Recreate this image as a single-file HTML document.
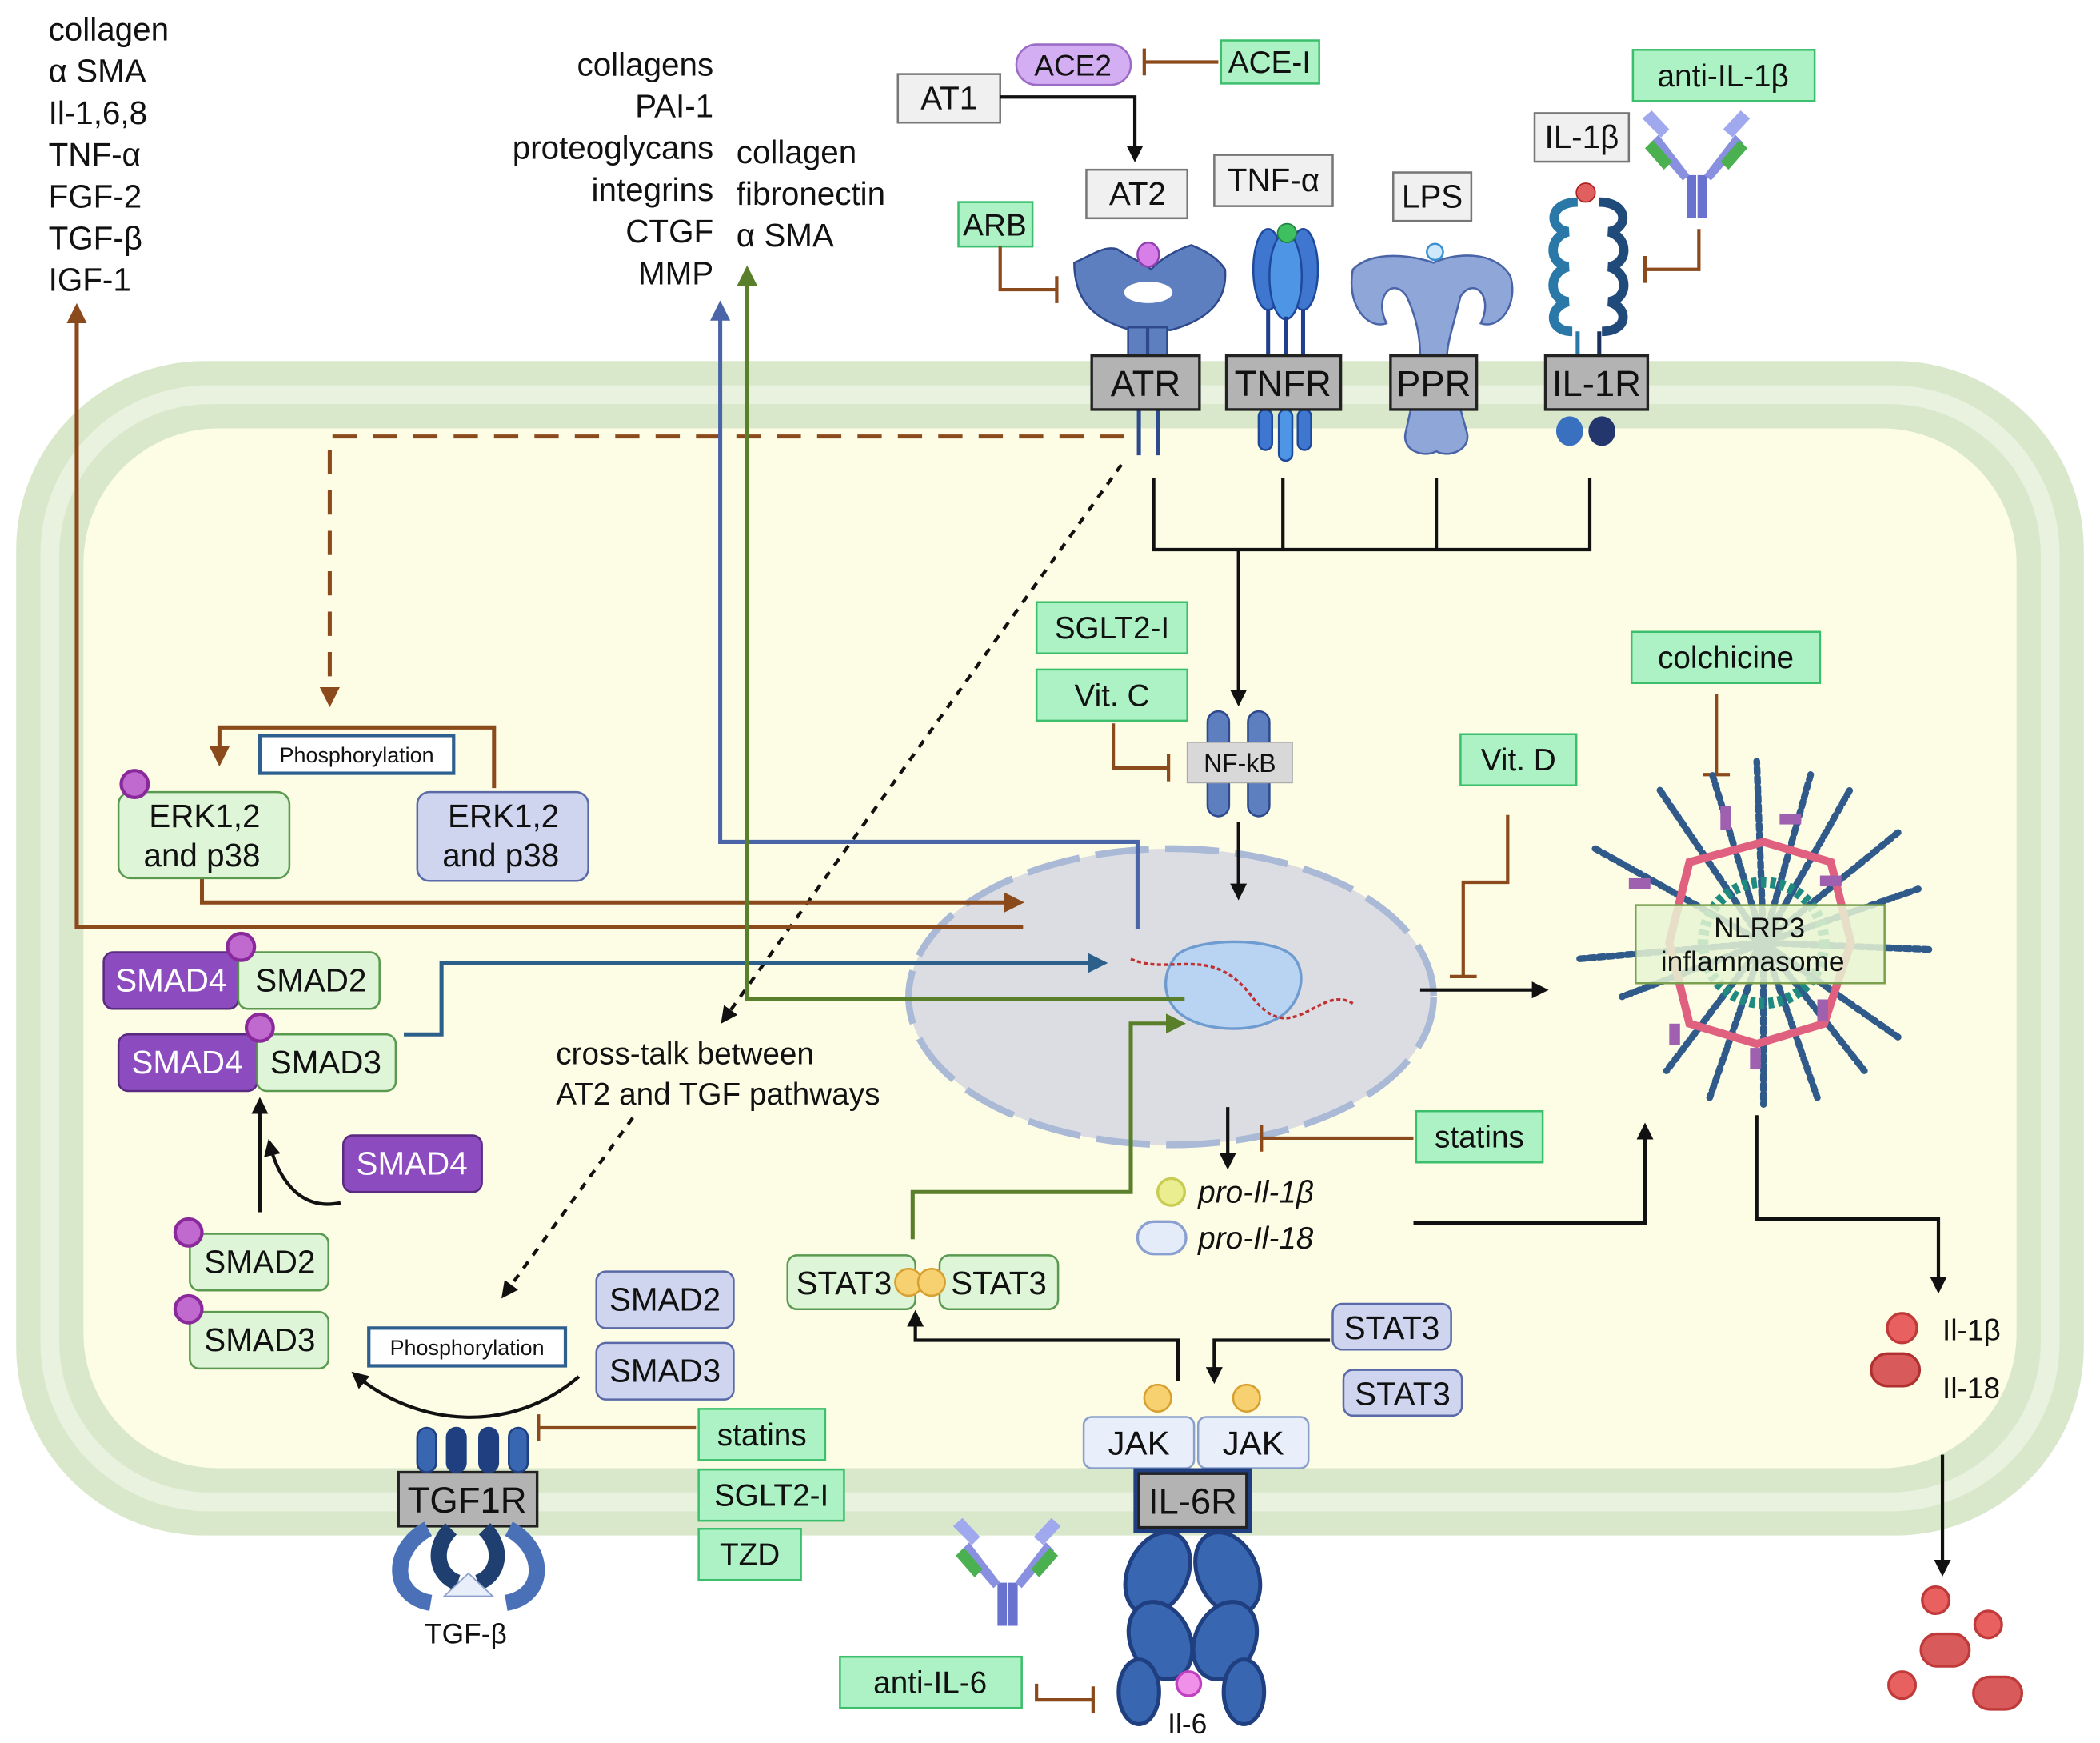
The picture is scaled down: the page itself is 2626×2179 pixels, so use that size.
<!DOCTYPE html>
<html><head><meta charset="utf-8"><style>
html,body{margin:0;padding:0;background:#fff}
svg{display:block}
text{font-family:"Liberation Sans",sans-serif;fill:#111}
</style></head><body>
<svg width="2626" height="2179" viewBox="0 0 1560 1294" preserveAspectRatio="none" xmlns="http://www.w3.org/2000/svg">
<defs>
<marker id="ab" viewBox="0 0 10 10" refX="8" refY="5" markerWidth="5" markerHeight="5" orient="auto"><path d="M0,0L10,5L0,10z" fill="#111"/></marker>
<marker id="abr" viewBox="0 0 10 10" refX="8" refY="5" markerWidth="5" markerHeight="5" orient="auto"><path d="M0,0L10,5L0,10z" fill="#8b4a1c"/></marker>
<marker id="abl" viewBox="0 0 10 10" refX="8" refY="5" markerWidth="5" markerHeight="5" orient="auto"><path d="M0,0L10,5L0,10z" fill="#4a64a8"/></marker>
<marker id="abd" viewBox="0 0 10 10" refX="8" refY="5" markerWidth="5" markerHeight="5" orient="auto"><path d="M0,0L10,5L0,10z" fill="#2c5f8a"/></marker>
<marker id="abg" viewBox="0 0 10 10" refX="8" refY="5" markerWidth="5" markerHeight="5" orient="auto"><path d="M0,0L10,5L0,10z" fill="#5a7f2a"/></marker>
</defs>

<!-- cell -->
<rect x="12" y="268" width="1536" height="872" rx="140" fill="#d9e8cb"/>
<rect x="30" y="286" width="1500" height="836" rx="125" fill="#e9f1df"/>
<rect x="44" y="300" width="1472" height="808" rx="112" fill="#d9e8cb"/>
<rect x="62" y="318" width="1436" height="772" rx="100" fill="#fdfde6"/>

<!-- nucleus -->
<ellipse cx="870" cy="740" rx="195" ry="110" fill="#dcdde3" stroke="#a9b9d6" stroke-width="5" stroke-dasharray="40,12"/>
<path d="M872,712C880,696 950,694 962,712C972,725 965,750 945,758C925,768 885,765 872,748C862,735 866,720 872,712Z" fill="#b8d4f2" stroke="#6e9bd0" stroke-width="2"/>
<path d="M840,712C870,725 900,700 930,740S980,730 1005,745" stroke="#c03030" stroke-width="2" fill="none" stroke-dasharray="3,2"/>

<!-- top-left text -->
<g font-size="24">
<text x="36" y="30">collagen</text><text x="36" y="61">α SMA</text><text x="36" y="92">Il-1,6,8</text><text x="36" y="123">TNF-α</text><text x="36" y="154">FGF-2</text><text x="36" y="185">TGF-β</text><text x="36" y="216">IGF-1</text>
<g text-anchor="end"><text x="530" y="56">collagens</text><text x="530" y="87">PAI-1</text><text x="530" y="118">proteoglycans</text><text x="530" y="149">integrins</text><text x="530" y="180">CTGF</text><text x="530" y="211">MMP</text></g>
<text x="547" y="121">collagen</text><text x="547" y="152">fibronectin</text><text x="547" y="183">α SMA</text>
</g>

<!-- gray ligand boxes -->
<g fill="#f0f0f0" stroke="#777" stroke-width="1.5">
<rect x="667" y="55" width="76" height="36"/><rect x="807" y="126" width="75" height="36"/><rect x="902" y="115" width="88" height="38"/><rect x="1035" y="128" width="58" height="36"/><rect x="1140" y="84" width="70" height="36"/>
</g>
<g font-size="24" text-anchor="middle"><text x="705" y="81">AT1</text><text x="845" y="152">AT2</text><text x="946" y="142">TNF-α</text><text x="1064" y="154">LPS</text><text x="1175" y="110">IL-1β</text></g>

<!-- ACE2 -->
<rect x="755" y="33" width="85" height="30" rx="15" fill="#d4aef2" stroke="#9a6cc5" stroke-width="1.5"/>
<text x="797" y="56" font-size="22" text-anchor="middle">ACE2</text>

<!-- green drug boxes -->
<g fill="#acf2c4" stroke="#3cbf6c" stroke-width="1.5">
<rect x="907" y="30" width="73" height="32"/><rect x="1213" y="37" width="135" height="38"/><rect x="712" y="150" width="55" height="33"/>
<rect x="770" y="447" width="112" height="38"/><rect x="770" y="497" width="112" height="38"/><rect x="1212" y="469" width="140" height="38"/>
<rect x="1085" y="545" width="86" height="38"/><rect x="1052" y="825" width="94" height="38"/>
<rect x="519" y="1046" width="94" height="38"/><rect x="519" y="1091" width="108" height="38"/><rect x="519" y="1135" width="76" height="38"/>
<rect x="624" y="1230" width="135" height="38"/>
</g>
<g font-size="23" text-anchor="middle">
<text x="943" y="54">ACE-I</text><text x="1280" y="64">anti-IL-1β</text><text x="739" y="175">ARB</text>
<text x="826" y="474">SGLT2-I</text><text x="826" y="524">Vit. C</text><text x="1282" y="496">colchicine</text>
<text x="1128" y="572">Vit. D</text><text x="1099" y="852">statins</text>
<text x="566" y="1073">statins</text><text x="573" y="1118">SGLT2-I</text><text x="557" y="1162">TZD</text>
<text x="691" y="1257">anti-IL-6</text>
</g>

<!-- inhibitors (brown) -->
<g stroke="#8b4a1c" stroke-width="2.5" fill="none">
<path d="M905,46H850M850,36V56"/>
<path d="M743,183V215H785M785,205V225"/>
<path d="M1262,170V200H1222M1222,190V210"/>
<path d="M827,537V570H868M868,560V580"/>
<path d="M1120,605V655H1087V725M1077,725H1097"/>
<path d="M1275,515V575M1265,575H1285"/>
<path d="M1050,845H937M937,835V855"/>
<path d="M517,1060H400M400,1050V1070"/>
<path d="M770,1250V1262H812M812,1252V1272"/>
</g>

<!-- black arrows -->
<g stroke="#111" stroke-width="2.5" fill="none">
<path d="M743,72H843V118" marker-end="url(#ab)"/>
<path d="M857,355V408H1181V355M953,355V408M1067,355V408"/>
<path d="M920,408V522" marker-end="url(#ab)"/>
<path d="M920,610V666" marker-end="url(#ab)"/>
<path d="M1055,735H1148" marker-end="url(#ab)"/>
<path d="M912,822V866" marker-end="url(#ab)"/>
<path d="M1050,908H1222V836" marker-end="url(#ab)"/>
<path d="M1305,828V905H1440V958" marker-end="url(#ab)"/>
<path d="M1443,1080V1168" marker-end="url(#ab)"/>
<path d="M875,1025V995H680V975" marker-end="url(#ab)"/>
<path d="M988,995H902V1025" marker-end="url(#ab)"/>
<path d="M193,900V817" marker-end="url(#ab)"/>
<path d="M253,893C220,900 205,870 200,848" marker-end="url(#ab)"/>
<path d="M430,1022C380,1065 310,1060 263,1020" marker-end="url(#ab)"/>
<path d="M833,345L537,758" stroke-dasharray="6,6" marker-end="url(#ab)"/>
<path d="M470,830L374,962" stroke-dasharray="6,6" marker-end="url(#ab)"/>
</g>

<!-- brown dashed / solid -->
<g stroke="#8b4a1c" stroke-width="3" fill="none">
<path d="M835,324H245V522" stroke-dasharray="18,12" marker-end="url(#abr)"/>
<path d="M367,585V540H163V566" marker-end="url(#abr)"/>
<path d="M150,652V670H758" marker-end="url(#abr)"/>
<path d="M760,688H57V228" marker-end="url(#abr)"/>
</g>
<path d="M845,690V625H535V226" stroke="#4a64a8" stroke-width="3" fill="none" marker-end="url(#abl)"/>
<path d="M300,768H328V715H820" stroke="#2c5f8a" stroke-width="3" fill="none" marker-end="url(#abd)"/>
<g stroke="#5a7f2a" stroke-width="3" fill="none">
<path d="M880,742H555V200" marker-end="url(#abg)"/>
<path d="M678,920V885H840V760H878" marker-end="url(#abg)"/>
</g>

<!-- receptors top -->
<g fill="#5d7fc0" stroke="#2e4a8c" stroke-width="1.5">
<path d="M798,195C810,190 820,182 830,185C840,192 850,195 855,200C862,192 875,185 885,182C895,186 905,192 910,200C912,225 895,238 870,245H840C815,238 798,225 798,195Z"/>
<rect x="838" y="243" width="14" height="25"/><rect x="853" y="243" width="14" height="25"/>
</g>
<ellipse cx="853" cy="189" rx="8" ry="9" fill="#d87ee8" stroke="#9040b0" stroke-width="1.5"/>
<ellipse cx="853" cy="217" rx="18" ry="8" fill="#fff"/>
<g stroke="#2e4a8c" stroke-width="3"><line x1="846" y1="304" x2="846" y2="338"/><line x1="860" y1="304" x2="860" y2="338"/></g>
<g fill="#3f77d0" stroke="#1f4a9c" stroke-width="1.5">
<ellipse cx="942" cy="200" rx="11" ry="30"/><ellipse cx="968" cy="200" rx="11" ry="30"/><ellipse cx="955" cy="205" rx="12" ry="32" fill="#4f95e6"/>
<rect x="935" y="304" width="10" height="30" rx="5"/><rect x="950" y="304" width="10" height="38" rx="5" fill="#4f95e6"/><rect x="964" y="304" width="10" height="30" rx="5"/>
</g>
<g stroke="#1f3f8c" stroke-width="3"><line x1="942" y1="230" x2="942" y2="264"/><line x1="955" y1="235" x2="955" y2="264"/><line x1="968" y1="230" x2="968" y2="264"/></g>
<circle cx="956" cy="173" r="7" fill="#3fc060" stroke="#208040"/>
<g fill="#8fa6d8" stroke="#4a64a8" stroke-width="1.5">
<path d="M1005,200C1020,185 1050,190 1065,195C1080,188 1110,185 1122,205C1128,225 1115,245 1100,240C1110,220 1095,205 1085,220C1080,240 1075,255 1075,264H1055C1055,250 1052,235 1045,220C1035,205 1020,220 1030,240C1015,245 1000,225 1005,200Z"/>
<path d="M1048,304H1085L1090,322C1092,335 1075,340 1067,335C1058,340 1042,335 1044,322Z"/>
</g>
<circle cx="1066" cy="187" r="6" fill="#cfe8fa" stroke="#3a90d0" stroke-width="1.5"/>
<g fill="none" stroke-width="7">
<path d="M1172,150C1150,150 1150,170 1165,172C1150,176 1150,196 1165,198C1150,202 1150,222 1165,224C1150,228 1150,246 1168,246" stroke="#2a78a8"/>
<path d="M1188,150C1210,150 1210,170 1195,172C1210,176 1210,196 1195,198C1210,202 1210,222 1195,224C1210,228 1210,246 1190,246" stroke="#1f4a7a"/>
</g>
<g stroke-width="3"><line x1="1172" y1="246" x2="1172" y2="264" stroke="#2a78a8"/><line x1="1188" y1="246" x2="1188" y2="264" stroke="#1a2f5a"/></g>
<circle cx="1178" cy="143" r="7" fill="#e06060" stroke="#b02020"/>
<ellipse cx="1166" cy="320" rx="10" ry="11" fill="#3a70c0"/><ellipse cx="1190" cy="320" rx="10" ry="11" fill="#23376e"/>

<!-- dark label boxes -->
<g fill="#b3b3b3" stroke="#222" stroke-width="2">
<rect x="811" y="264" width="80" height="40"/><rect x="911" y="264" width="85" height="40"/><rect x="1033" y="264" width="64" height="40"/><rect x="1148" y="264" width="76" height="40"/>
<rect x="296" y="1093" width="103" height="40"/>
</g>
<g font-size="27" text-anchor="middle"><text x="851" y="294">ATR</text><text x="953" y="294">TNFR</text><text x="1065" y="294">PPR</text><text x="1186" y="294">IL-1R</text><text x="347" y="1123">TGF1R</text></g>

<!-- antibodies -->
<g id="abody" stroke-width="0">
<rect x="1253" y="130" width="7" height="32" fill="#6a72d0"/><rect x="1261" y="130" width="7" height="32" fill="#6a72d0"/>
<path d="M1255,130L1232,100L1226,106L1250,134Z" fill="#8a90e0"/><path d="M1266,130L1289,100L1295,106L1271,134Z" fill="#8a90e0"/>
<path d="M1234,102L1220,88L1227,82L1240,96Z" fill="#a0a8ee"/><path d="M1287,102L1300,88L1293,82L1280,96Z" fill="#a0a8ee"/>
<path d="M1222,110L1236,126L1242,120L1228,104Z" fill="#4ab050"/><path d="M1298,110L1284,126L1278,120L1292,104Z" fill="#4ab050"/>
</g>
<use href="#abody" transform="translate(-512,1045)"/>

<!-- NF-kB -->
<g fill="#5d7fc0" stroke="#2e4a8c" stroke-width="1.5"><rect x="897" y="528" width="16" height="78" rx="8"/><rect x="927" y="528" width="16" height="78" rx="8"/></g>
<rect x="882" y="551" width="78" height="30" fill="#d8d8d8" stroke="#aaa"/>
<text x="921" y="573" font-size="19" text-anchor="middle" fill="#333">NF-kB</text>

<!-- Phosphorylation boxes -->
<g fill="#fff" stroke="#2d5f8f" stroke-width="2.5"><rect x="193" y="546" width="144" height="28"/><rect x="274" y="986" width="146" height="28"/></g>
<g font-size="16" text-anchor="middle"><text x="265" y="566">Phosphorylation</text><text x="347" y="1006">Phosphorylation</text></g>

<!-- ERK -->
<rect x="88" y="588" width="127" height="64" rx="9" fill="#dff5d8" stroke="#5a9a50" stroke-width="1.5"/>
<rect x="310" y="588" width="127" height="66" rx="9" fill="#cfd5ee" stroke="#5a6aa8" stroke-width="1.5"/>
<g font-size="24" text-anchor="middle"><text x="152" y="614">ERK1,2</text><text x="150" y="643">and p38</text><text x="374" y="614">ERK1,2</text><text x="372" y="643">and p38</text></g>

<!-- SMADs -->
<g fill="#8c4cbf" stroke="#5a2a80" stroke-width="1.5"><rect x="77" y="707" width="100" height="42" rx="7"/><rect x="88" y="768" width="103" height="42" rx="7"/><rect x="255" y="843" width="103" height="42" rx="7"/></g>
<g fill="#dff5d8" stroke="#5a9a50" stroke-width="1.5"><rect x="177" y="707" width="105" height="42" rx="7"/><rect x="191" y="768" width="103" height="42" rx="7"/><rect x="141" y="916" width="103" height="42" rx="7"/><rect x="141" y="974" width="103" height="42" rx="7"/>
<rect x="585" y="932" width="95" height="40" rx="7"/><rect x="698" y="932" width="88" height="40" rx="7"/></g>
<g fill="#cfd5ee" stroke="#5a6aa8" stroke-width="1.5"><rect x="443" y="944" width="102" height="42" rx="7"/><rect x="443" y="997" width="102" height="42" rx="7"/><rect x="990" y="968" width="88" height="34" rx="7"/><rect x="998" y="1017" width="88" height="34" rx="7"/></g>
<g font-size="24" text-anchor="middle">
<text x="127" y="736" style="fill:#fff">SMAD4</text><text x="231" y="736">SMAD2</text>
<text x="139" y="797" style="fill:#fff">SMAD4</text><text x="242" y="797">SMAD3</text>
<text x="306" y="872" style="fill:#fff">SMAD4</text>
<text x="193" y="945">SMAD2</text><text x="193" y="1003">SMAD3</text>
<text x="494" y="973">SMAD2</text><text x="494" y="1026">SMAD3</text>
<text x="627" y="961">STAT3</text><text x="742" y="961">STAT3</text>
<text x="1034" y="994">STAT3</text><text x="1042" y="1043">STAT3</text>
</g>
<g fill="#c06ad0" stroke="#8a2a9a" stroke-width="2.5"><circle cx="100" cy="582" r="10"/><circle cx="179" cy="703" r="10"/><circle cx="193" cy="763" r="10"/><circle cx="140" cy="915" r="10"/><circle cx="140" cy="972" r="10"/></g>
<g fill="#f7d070" stroke="#d8a030" stroke-width="1.5"><circle cx="675" cy="952" r="10"/><circle cx="692" cy="952" r="10"/><circle cx="860" cy="1038" r="10"/><circle cx="926" cy="1038" r="10"/></g>

<!-- JAK -->
<g fill="#e8eefa" stroke="#8aa0cc" stroke-width="1.5"><rect x="805" y="1052" width="82" height="38" rx="6"/><rect x="890" y="1052" width="82" height="38" rx="6"/></g>
<g font-size="25" text-anchor="middle"><text x="846" y="1080">JAK</text><text x="931" y="1080">JAK</text></g>
<rect x="842" y="1090" width="88" height="48" fill="#1f3f80"/>
<rect x="846" y="1094" width="80" height="40" fill="#b3b3b3" stroke="#222" stroke-width="2"/>
<text x="886" y="1124" font-size="27" text-anchor="middle">IL-6R</text>
<!-- IL-6R body -->
<g fill="#3866b0" stroke="#1f3f80" stroke-width="3">
<ellipse cx="860" cy="1168" rx="22" ry="32" transform="rotate(25 860 1168)"/><ellipse cx="912" cy="1168" rx="22" ry="32" transform="rotate(-25 912 1168)"/>
<ellipse cx="862" cy="1218" rx="22" ry="30" transform="rotate(-25 862 1218)"/><ellipse cx="910" cy="1218" rx="22" ry="30" transform="rotate(25 910 1218)"/>
<ellipse cx="846" cy="1256" rx="15" ry="24"/><ellipse cx="924" cy="1256" rx="15" ry="24"/>
</g>
<circle cx="883" cy="1250" r="9" fill="#f090e8" stroke="#c040c0" stroke-width="2"/>
<text x="882" y="1287" font-size="21" text-anchor="middle">Il-6</text>

<!-- TGF1R shapes -->
<g fill="#3866b0" stroke="#1f3f80" stroke-width="1.5">
<rect x="310" y="1060" width="14" height="33" rx="7"/><rect x="332" y="1060" width="14" height="33" rx="7" fill="#1f3f80"/><rect x="356" y="1060" width="14" height="33" rx="7" fill="#1f3f80"/><rect x="378" y="1060" width="14" height="33" rx="7"/>
</g>
<g fill="none" stroke-width="12">
<path d="M318,1135C290,1150 290,1185 320,1190" stroke="#4a70b8"/><path d="M378,1135C406,1150 406,1185 376,1190" stroke="#4a70b8"/>
<path d="M335,1135C320,1150 325,1170 340,1175" stroke="#1f3f70"/><path d="M360,1135C375,1150 370,1170 355,1175"  stroke="#1f3f70"/>
</g>
<path d="M330,1185L348,1168L366,1185Z" fill="#e8eefa" stroke="#8aa0cc"/>
<text x="346" y="1220" font-size="21" text-anchor="middle">TGF-β</text>

<!-- cross talk -->
<g font-size="23"><text x="413" y="790">cross-talk between</text><text x="413" y="820">AT2 and TGF pathways</text></g>

<!-- pro-IL -->
<circle cx="870" cy="885" r="10" fill="#eaee90" stroke="#c8cc50" stroke-width="2"/>
<rect x="845" y="907" width="36" height="24" rx="12" fill="#e4ecfa" stroke="#8aa0d0" stroke-width="2"/>
<g font-size="23" font-style="italic"><text x="890" y="893">pro-Il-1β</text><text x="890" y="927">pro-Il-18</text></g>

<!-- NLRP3 -->
<g stroke="#2f5a8a" stroke-width="5" stroke-dasharray="4,3" stroke-linecap="round">
<path d="M1310,700L1305,565M1310,700L1345,575M1310,700L1375,585M1310,700L1410,618M1310,700L1425,660M1310,700L1435,705M1310,700L1410,770M1310,700L1385,795M1310,700L1350,815M1310,700L1310,820M1310,700L1270,815M1310,700L1238,795M1310,700L1205,740M1310,700L1172,712M1310,700L1185,630M1310,700L1232,585M1310,700L1272,575"/>
</g>
<polygon points="1255,640 1310,625 1360,640 1375,700 1355,760 1305,775 1255,760 1240,700" fill="none" stroke="#e06080" stroke-width="6"/>
<circle cx="1310" cy="700" r="45" fill="none" stroke="#1f8a80" stroke-width="8" stroke-dasharray="4,3"/>
<g fill="#a060b0"><rect x="1278" y="598" width="8" height="18"/><rect x="1322" y="604" width="16" height="8"/><rect x="1352" y="650" width="16" height="8"/><rect x="1240" y="760" width="8" height="16"/><rect x="1300" y="778" width="8" height="16"/><rect x="1350" y="742" width="8" height="16"/><rect x="1210" y="652" width="16" height="8"/></g>
<rect x="1215" y="672" width="185" height="58" fill="#e6f5d2" fill-opacity="0.85" stroke="#7aa050" stroke-width="1.5"/>
<g font-size="21" text-anchor="middle"><text x="1307" y="696">NLRP3</text><text x="1302" y="721">inflammasome</text></g>

<!-- IL outputs -->
<circle cx="1413" cy="986" r="11" fill="#e86060" stroke="#c03a3a" stroke-width="2"/>
<rect x="1390" y="1005" width="36" height="24" rx="12" fill="#d85a5a" stroke="#b03030" stroke-width="2"/>
<g font-size="22"><text x="1443" y="995">Il-1β</text><text x="1443" y="1038">Il-18</text></g>
<g fill="#e86060" stroke="#c03a3a" stroke-width="2">
<circle cx="1438" cy="1188" r="10"/><circle cx="1477" cy="1206" r="10"/><circle cx="1413" cy="1251" r="10"/>
<rect x="1427" y="1213" width="36" height="24" rx="12" fill="#d85a5a"/><rect x="1466" y="1245" width="36" height="24" rx="12" fill="#d85a5a"/>
</g>
</svg>
</body></html>
